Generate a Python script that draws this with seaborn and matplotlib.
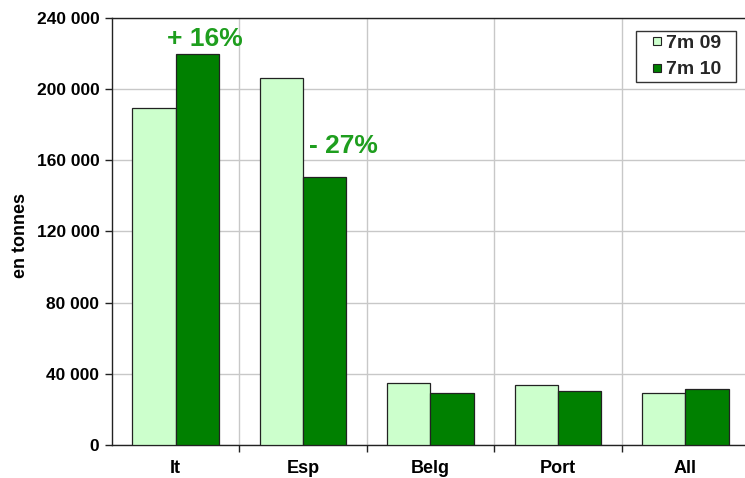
import matplotlib
matplotlib.use("Agg")
import matplotlib.pyplot as plt
import seaborn as sns
import pandas as pd
from matplotlib.lines import Line2D
from matplotlib.ticker import FixedLocator, FuncFormatter

# Tonnages per destination country, first seven months
countries = ["It", "Esp", "Belg", "Port", "All"]
periods = ["7m 09", "7m 10"]
vals_09 = [189500, 206500, 35100, 33800, 29300]
vals_10 = [220000, 150600, 29200, 30100, 31600]
change_labels = {"It": "+ 16%", "Esp": "- 27%"}

df = pd.DataFrame({
    "pays": countries * 2,
    "periode": [periods[0]] * len(countries) + [periods[1]] * len(countries),
    "tonnes": vals_09 + vals_10,
})

sns.set_theme(style="white")
plt.rcParams["font.family"] = ["Liberation Sans", "DejaVu Sans"]
plt.rcParams["font.weight"] = "bold"

fig = plt.figure(figsize=(7.45, 4.78), dpi=100)
ax = fig.add_axes([0.1503, 0.069, 0.855, 0.8935])

palette = {"7m 09": "#CCFFCC", "7m 10": "#008000"}
sns.barplot(data=df, x="pays", y="tonnes", hue="periode", order=countries,
            hue_order=periods, palette=palette, width=0.68, gap=0,
            edgecolor="#222222", linewidth=0.9, saturation=1, ax=ax,
            errorbar=None, zorder=3, legend=False)

ax.set_xlim(-0.5, 4.5)
ax.set_ylim(0, 240000)
ax.yaxis.set_major_locator(FixedLocator(list(range(0, 240001, 40000))))
ax.yaxis.set_major_formatter(FuncFormatter(lambda v, p: f"{int(v):,}".replace(",", " ")))
ax.xaxis.set_minor_locator(FixedLocator([0.5, 1.5, 2.5, 3.5]))

ax.grid(True, axis="y", which="major", color="#C8C8C8", linewidth=1.0, zorder=0)
ax.grid(True, axis="x", which="minor", color="#C8C8C8", linewidth=1.0, zorder=0)
ax.grid(False, axis="x", which="major")
ax.set_axisbelow(True)

ax.spines["right"].set_visible(False)
for side in ["left", "bottom", "top"]:
    ax.spines[side].set_color("#222222")
    ax.spines[side].set_linewidth(1.0)

ax.tick_params(axis="y", which="major", direction="out", length=5, width=1,
               color="#222222", labelsize=12.5, pad=4, left=True)
ax.tick_params(axis="x", which="major", length=0, labelsize=13, pad=11)
ax.tick_params(axis="x", which="minor", direction="out", length=5, width=1,
               color="#222222", bottom=True)
for lbl in ax.get_xticklabels() + ax.get_yticklabels():
    lbl.set_fontweight("bold")
    lbl.set_color("black")

ax.set_xlabel("")
ax.set_ylabel("en tonnes", fontsize=13, fontweight="bold", color="black")
ax.yaxis.set_label_coords(-0.130, 0.49)

# Year-on-year change labels
ax.text(0 + 0.23, vals_10[0] + 1500, change_labels["It"], ha="center", va="bottom",
        fontsize=19, fontweight="bold", color="#1E9E1E")
ax.text(1 + 0.32, vals_10[1] + 10700, change_labels["Esp"], ha="center", va="bottom",
        fontsize=19, fontweight="bold", color="#1E9E1E")

# Legend with small square swatches
handles = [Line2D([], [], linestyle="none", marker="s", markersize=6.2,
                  markerfacecolor=palette[p], markeredgecolor="#222222",
                  markeredgewidth=0.8) for p in periods]
leg = ax.legend(handles, [p + "  " for p in periods], loc="upper right",
                bbox_to_anchor=(0.979, 0.970), frameon=True, fancybox=False,
                edgecolor="black", fontsize=14, handlelength=1.72,
                handletextpad=-0.4, borderpad=0.2, labelspacing=0.44,
                borderaxespad=0)
leg.get_frame().set_linewidth(1.0)
for t in leg.get_texts():
    t.set_fontweight("bold")

fig.savefig("out.png", dpi=100)
